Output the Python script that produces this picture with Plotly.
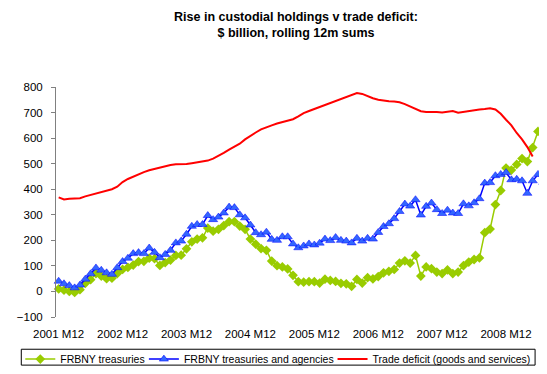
import plotly.graph_objects as go

# ---- data ----
start_year, start_month, n_months = 2001, 12, 92
months = []
y, m = start_year, start_month
for _ in range(n_months):
    months.append(f"{y} M{m}")
    m += 1
    if m > 12:
        m = 1
        y += 1

tick_labels = ["2001 M12", "2002 M12", "2003 M12", "2004 M12",
               "2005 M12", "2006 M12", "2007 M12", "2008 M12"]

frbny_treasuries = [10, 5, 0, -4, 7, 32, 46, 70, 60, 50,
                    52, 70, 86, 94, 103, 117, 118, 130, 128, 102,
                    113, 123, 141, 142, 167, 194, 205, 210, 248, 236,
                    243, 258, 273, 273, 256, 243, 205, 185, 168, 161,
                    119, 101, 96, 88, 63, 38, 36, 38, 38, 33,
                    48, 43, 39, 32, 30, 20, 47, 33, 54, 49,
                    58, 73, 79, 86, 111, 120, 111, 141, 60, 96,
                    89, 76, 70, 84, 70, 76, 101, 115, 125, 131,
                    230, 244, 340, 395, 483, 475, 497, 520, 508, 563,
                    626, 616]

frbny_treas_agencies = [40, 30, 23, 14, 25, 48, 69, 92, 83, 73,
                        67, 93, 117, 130, 148, 152, 148, 170, 153, 132,
                        145, 161, 190, 197, 224, 255, 262, 262, 297, 281,
                        291, 307, 330, 328, 300, 288, 260, 230, 222, 232,
                        204, 200, 214, 214, 186, 171, 178, 186, 182, 189,
                        205, 199, 211, 200, 197, 190, 208, 197, 208, 205,
                        231, 254, 265, 285, 313, 342, 334, 359, 299, 333,
                        346, 320, 305, 318, 307, 305, 343, 335, 347, 363,
                        424, 426, 453, 458, 465, 437, 439, 433, 384, 433,
                        458, 427]

trade_deficit = [368, 360, 363, 363, 365, 372, 377, 383, 390, 395,
                 400, 410, 428, 440, 450, 460, 467, 474, 480, 485,
                 490, 495, 498, 498, 499, 502, 505, 508, 512, 520,
                 530, 542, 555, 565, 578, 595, 610, 622, 634, 643,
                 650, 657, 663, 668, 674, 685, 698, 706, 714, 722,
                 730, 737, 745, 752, 760, 768, 776, 773, 764, 756,
                 750, 746, 744, 743, 740, 733, 724, 714, 705, 702,
                 703, 702, 700, 703, 706, 699, 703, 705, 708, 712,
                 714, 717, 712, 695, 672, 650, 620, 595, 565, 528]

# year-boundary tick marks sit between categories
boundary_ticks = [11.5, 23.5, 35.5, 47.5, 59.5, 71.5, 83.5]

FONT = "Liberation Sans, Arial, sans-serif"
AXIS_GREY = "#808080"

fig = go.Figure()
fig.add_trace(go.Scatter(
    x=months, y=frbny_treasuries, name="FRBNY treasuries",
    mode="lines+markers", legend="legend", cliponaxis=False,
    line=dict(color="#99CC00", width=1.5),
    marker=dict(symbol="diamond", size=7.5, color="#99CC00")))
fig.add_trace(go.Scatter(
    x=months, y=frbny_treas_agencies, name="FRBNY treasuries and agencies",
    mode="lines+markers", legend="legend2", cliponaxis=False,
    line=dict(color="#0000FF", width=1.5),
    marker=dict(symbol="triangle-up", size=8, color="#3366FF",
                line=dict(color="#0000FF", width=0.5))))
fig.add_trace(go.Scatter(
    x=months[:len(trade_deficit)], y=trade_deficit,
    name="Trade deficit (goods and services)",
    mode="lines", legend="legend3", cliponaxis=False,
    line=dict(color="#FF0000", width=2)))

legend_common = dict(orientation="h", xanchor="left", yanchor="middle",
                     y=-0.183, bgcolor="rgba(0,0,0,0)", borderwidth=0,
                     font=dict(family=FONT, size=10.5, color="black"))

fig.update_layout(
    width=547, height=374,
    margin=dict(l=44, r=9, t=79, b=56),
    paper_bgcolor="white", plot_bgcolor="white",
    font=dict(family=FONT, color="black"),
    title=dict(text="Rise in custodial holdings v trade deficit:<br>$ billion, rolling 12m sums",
               x=288 / 547, xanchor="center", xref="container",
               y=1 - 13 / 374, yanchor="top", yref="container",
               font=dict(family=FONT, size=12.5, color="black", weight="bold")),
    xaxis=dict(type="category", range=[-0.5, n_months - 0.5],
               categoryorder="array", categoryarray=months,
               tickmode="array", tickvals=tick_labels, ticktext=tick_labels,
               showline=False, ticks="", showgrid=False, zeroline=False,
               ticklabelstandoff=8,
               tickfont=dict(family=FONT, size=11.5, color="black")),
    xaxis2=dict(overlaying="x", anchor="free", position=100 / 900,
                range=[-0.5, n_months - 0.5], type="linear",
                showline=True, linecolor=AXIS_GREY, linewidth=1,
                ticks="outside", ticklen=4, tickcolor=AXIS_GREY,
                tickmode="array", tickvals=boundary_ticks,
                showticklabels=False, showgrid=False, zeroline=False),
    yaxis=dict(range=[-100, 800], dtick=100, tick0=0,
               showline=True, linecolor=AXIS_GREY, linewidth=1,
               ticks="outside", ticklen=4, tickcolor=AXIS_GREY,
               showgrid=False, zeroline=False, ticklabelstandoff=6,
               tickfont=dict(family=FONT, size=11.5, color="black")),
    legend=dict(x=(8 - 44) / 494, **legend_common),
    legend2=dict(x=(132.6 - 44) / 494, **legend_common),
    legend3=dict(x=(322.8 - 44) / 494, **legend_common),
    shapes=[dict(type="rect", xref="paper", yref="paper",
                 x0=(9 - 44) / 494, x1=(527 - 44) / 494,
                 y0=(318 - 368) / 239, y1=(318 - 351.5) / 239,
                 line=dict(color="black", width=1),
                 fillcolor="rgba(0,0,0,0)")],
    showlegend=True,
)

fig.write_html("out.html")
